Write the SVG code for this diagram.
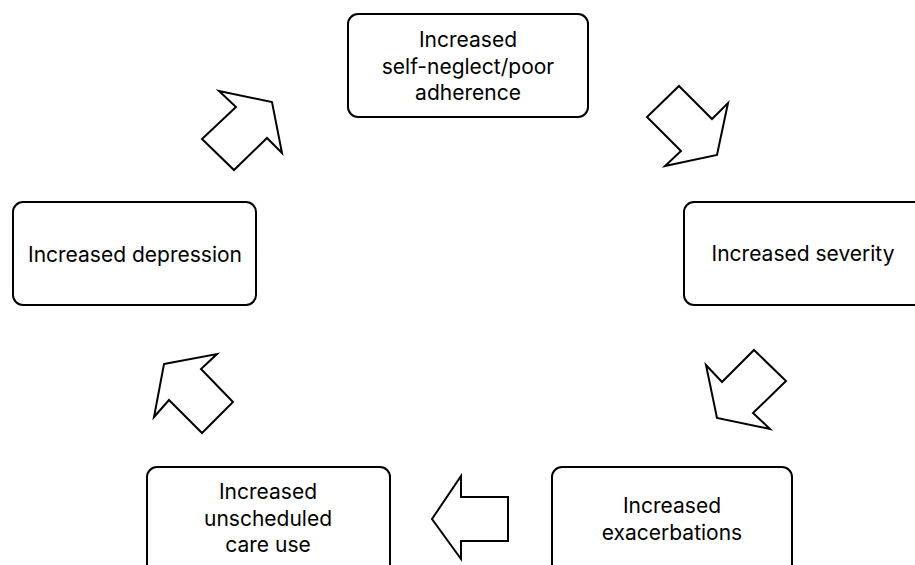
<svg xmlns="http://www.w3.org/2000/svg" width="915" height="565" viewBox="0 0 915 565">
<style>
.box{fill:#fff;stroke:#000;stroke-width:2}
.arr{fill:#fff;stroke:#000;stroke-width:2;stroke-linejoin:miter}
text{font-family:Inter,"Open Sans","Liberation Sans",sans-serif;font-size:21px;fill:#000;text-anchor:middle}
</style>
<rect width="915" height="565" fill="#fff"/>
<g id="connectors">
<polygon class="arr" points="219,91 272,102 282,153 267,138 234,170 202,139 236,107"/>
<polygon class="arr" points="679,86 712,119 728,103 717,155 665,166 681,151 647,117"/>
<polygon class="arr" points="754,350 786,381 753,413 770,429 717,418 706,365 722,382"/>
<polygon class="arr" points="461,476 461,497 508,497 508,541 461,541 461,559 432,519"/>
<polygon class="arr" points="164,364 217,354 201,369 233,402 202,433 169,400 154,417"/>
</g>
<g id="node-selfneglect">
<rect class="box" x="348" y="14" width="240" height="103" rx="10"/>
<text x="468" y="47">Increased</text>
<text x="468" y="74">self-neglect/poor</text>
<text x="468" y="100">adherence</text>
</g>
<g id="node-severity">
<rect class="box" x="684" y="202" width="241" height="103" rx="10"/>
<text x="803" y="261">Increased severity</text>
</g>
<g id="node-exacerbations">
<rect class="box" x="552" y="467" width="240" height="120" rx="10"/>
<text x="672" y="513">Increased</text>
<text x="672" y="540">exacerbations</text>
</g>
<g id="node-unscheduled">
<rect class="box" x="147" y="467" width="243" height="120" rx="10"/>
<text x="268" y="499">Increased</text>
<text x="268" y="526">unscheduled</text>
<text x="268" y="552">care use</text>
</g>
<g id="node-depression">
<rect class="box" x="13" y="202" width="243" height="103" rx="10"/>
<text x="135" y="262">Increased depression</text>
</g>
</svg>
